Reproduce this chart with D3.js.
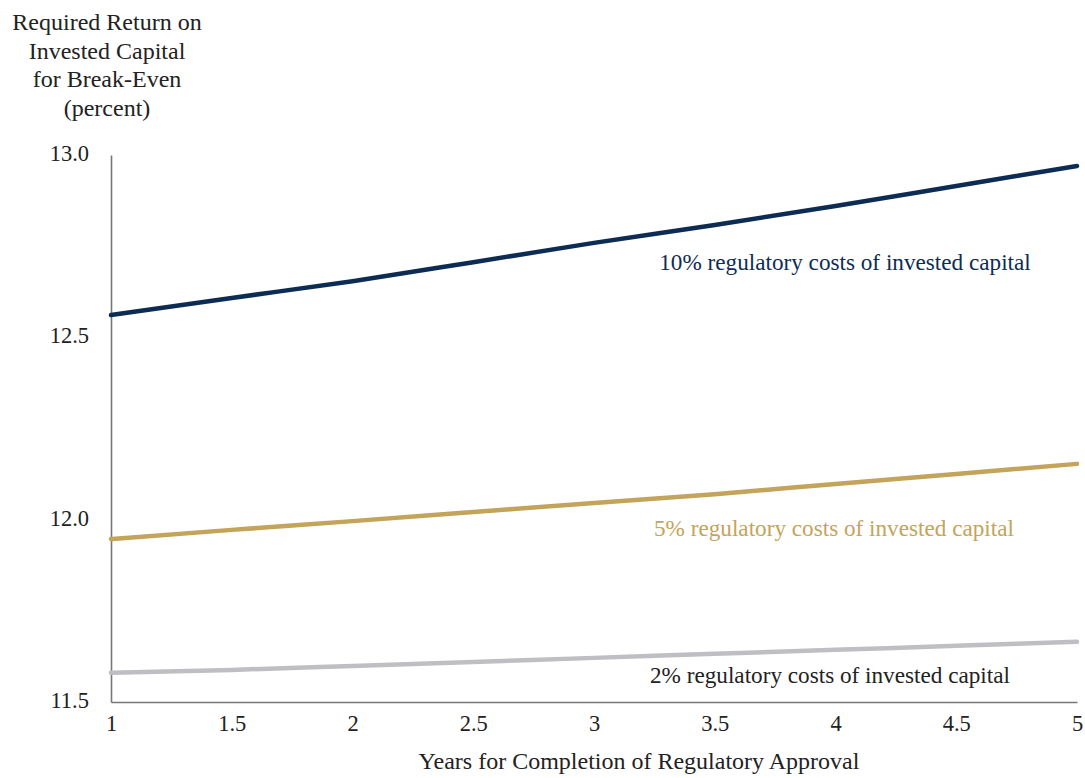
<!DOCTYPE html>
<html>
<head>
<meta charset="utf-8">
<script src="https://cdn.jsdelivr.net/npm/d3@7"></script>
<style>
  html, body { margin: 0; padding: 0; background: #fff; }
  svg { display: block; font-family: "Liberation Serif", "Times New Roman", serif; }
</style>
</head>
<body>
<svg id="chart" width="1085" height="778"></svg>
<script>
// ---- data ----
const years = [1, 1.5, 2, 2.5, 3, 3.5, 4, 4.5, 5];
const cost10 = [12.561, 12.608, 12.654, 12.706, 12.759, 12.808, 12.860, 12.915, 12.970];
const cost5  = [11.947, 11.972, 11.996, 12.021, 12.046, 12.070, 12.098, 12.125, 12.153];
const cost2  = [11.580, 11.588, 11.599, 11.610, 11.621, 11.632, 11.643, 11.654, 11.665];
const seriesNames = ["10% regulatory costs of invested capital",
                     "5% regulatory costs of invested capital",
                     "2% regulatory costs of invested capital"];
const xTicks = [1, 1.5, 2, 2.5, 3, 3.5, 4, 4.5, 5];
const yTicks = [11.5, 12.0, 12.5, 13.0];
const yTitle = ["Required Return on", "Invested Capital", "for Break-Even", "(percent)"];
const xTitle = "Years for Completion of Regulatory Approval";

// ---- layout ----
const FONT = "Liberation Serif, Times New Roman, serif";
const svg = d3.select("#chart");
const x = d3.scaleLinear().domain([1, 5]).range([111, 1077]);
const y = d3.scaleLinear().domain([11.5, 13.0]).range([702, 155]);

const series = [
  { name: seriesNames[0], values: cost10, color: "#0d2c54", labelColor: "#0d2c54", lx: 845, ly: 270 },
  { name: seriesNames[1], values: cost5,  color: "#c4a35a", labelColor: "#c4a35a", lx: 834, ly: 536 },
  { name: seriesNames[2], values: cost2,  color: "#bfbfc3", labelColor: "#222222", lx: 830, ly: 683 }
];

// axes
const xAxis = d3.axisBottom(x).tickValues(xTicks).tickSize(0).tickPadding(13)
  .tickFormat(d => d3.format("")(d));
const gx = svg.append("g").attr("transform", `translate(0,${y(11.5)})`).call(xAxis);
gx.attr("font-family", FONT);
gx.select(".domain").attr("stroke", "#777").attr("stroke-width", 1.6);
gx.selectAll("text").attr("font-size", 22.5).attr("fill", "#222");

const yAxis = d3.axisLeft(y).tickValues(yTicks).tickSize(0).tickPadding(22)
  .tickFormat(d3.format(".1f"));
const gy = svg.append("g").attr("transform", `translate(${x(1)},0)`).call(yAxis);
gy.attr("font-family", FONT);
gy.select(".domain").attr("stroke", "#777").attr("stroke-width", 1.6);
gy.selectAll("text").attr("font-size", 22.5).attr("fill", "#222").attr("dy", "0.25em");

// lines
const line = d3.line().x((d, i) => x(years[i])).y(d => y(d)).curve(d3.curveMonotoneX);
series.slice().reverse().forEach(s => {
  svg.append("path").datum(s.values)
    .attr("d", line)
    .attr("fill", "none")
    .attr("stroke", s.color)
    .attr("stroke-width", 4.5)
    .attr("stroke-linecap", "round");
});

// series labels
series.forEach(s => {
  svg.append("text")
    .attr("x", s.lx).attr("y", s.ly)
    .attr("text-anchor", "middle")
    .attr("font-size", 23.2)
    .attr("fill", s.labelColor)
    .text(s.name);
});

// y title
const yt = svg.append("text").attr("text-anchor", "middle").attr("font-size", 24).attr("fill", "#222");
yTitle.forEach((t, i) => {
  yt.append("tspan").attr("x", 107).attr("y", 30 + i * 28.5).text(t);
});

// x title
svg.append("text").attr("x", 639).attr("y", 769).attr("text-anchor", "middle")
  .attr("font-size", 24).attr("fill", "#222").text(xTitle);
</script>
</body>
</html>
